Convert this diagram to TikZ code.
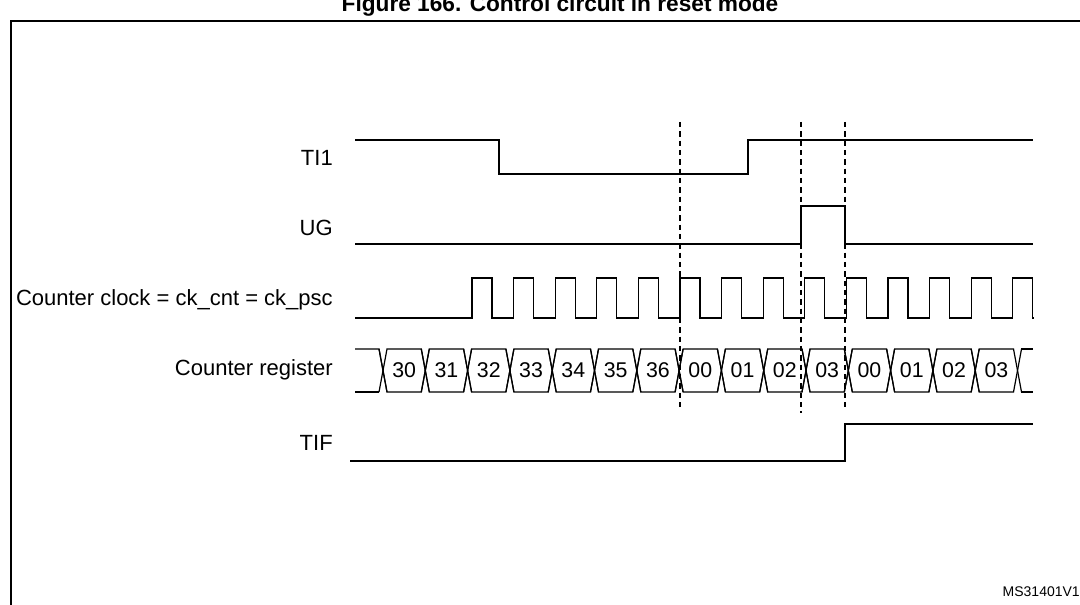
\documentclass[tikz,border=0pt]{standalone}
\usepackage{fontspec}
\setmainfont{Liberation Sans}
\begin{document}
\begin{tikzpicture}[x=0.75pt,y=-0.75pt,
  sig/.style={line width=0.9pt},
  dashln/.style={line width=0.8pt,dash pattern=on 4pt off 3pt},
  lab/.style={anchor=east,font=\fontsize{16.5}{18}\selectfont,inner sep=0pt},
  val/.style={font=\fontsize{16}{18}\selectfont,inner sep=0pt}]
\useasboundingbox (0,0) rectangle (1080,605);
\begin{scope}
\clip (0,0) rectangle (1080,605);
\node[font=\bfseries\fontsize{17}{19}\selectfont,anchor=base] (title) at (560,12) {Figure 166. Control circuit in reset mode};
\draw[line width=1.2pt] (11,610) -- (11,21) -- (1085,21);
\end{scope}
% labels
\node[lab] (lti) at (333,158) {TI1};
\node[lab] (lug) at (333,228) {UG};
\node[lab] (lck) at (333,300) {Counter clock = ck\_cnt = ck\_psc};
\node[lab] (lcr) at (333,370) {Counter register};
\node[lab] (ltf) at (333,443) {TIF};
% TI1
\draw[sig] (355,140) -- (499,140) -- (499,174) -- (748,174) -- (748,140) -- (1033,140);
% UG
\draw[sig] (355,244) -- (801,244) -- (801,206) -- (845,206) -- (845,244) -- (1033,244);
% clock
\draw[sig] (355,318) -- (472,318)
  \foreach \i in {0,...,13} { -- ({472+41.6*\i},318) -- ({472+41.6*\i},278) -- ({492+41.6*\i},278) -- ({492+41.6*\i},318) }
  -- (1033,318);
% counter register
\def\t{349}\def\b{392}
\draw[sig] (355,\t) -- (379,\t) -- (387,\b);
\foreach \v [count=\i from 0] in {30,31,32,33,34,35,36,00,01,02,03,00,01,02,03} {
  \pgfmathsetmacro{\xa}{383+42.3*\i}
  \pgfmathsetmacro{\xb}{383+42.3*(\i+1)}
  \draw[sig] (\xa-4,\t) -- (\xa+4,\b) -- (\xb-4,\b) -- (\xb+4,\t);
  \draw[sig] (\xa-4,\b) -- (\xa+4,\t) -- (\xb-4,\t) -- (\xb+4,\b);
  \node[val] (v\i) at ({(\xa+\xb)/2},370) {\v};
}
\draw[sig] (355,\b) -- (379,\b);
\draw[sig] (1021,\t) -- (1033,\t);
\draw[sig] (1021,\b) -- (1033,\b);
% TIF
\draw[sig] (350,461) -- (845,461) -- (845,424) -- (1033,424);
% dashed
\draw[dashln] (680,122) -- (680,410);
\draw[dashln] (801,122) -- (801,413);
\draw[dashln] (845,122) -- (845,410);
\node[anchor=base east,font=\fontsize{10.5}{12}\selectfont,inner sep=0pt] (ms) at (1080,596) {MS31401V1};
\end{tikzpicture}
\end{document}
